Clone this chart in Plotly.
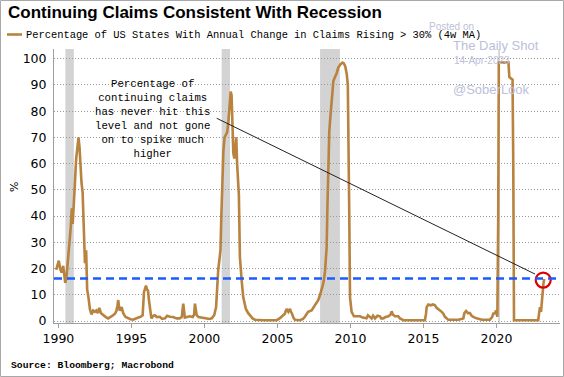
import plotly.graph_objects as go

# ---------------- data ----------------
years = [
    1989.85, 1989.95, 1990.03, 1990.12, 1990.22, 1990.33, 1990.40, 1990.47, 1990.56, 1990.67,
    1990.77, 1990.85, 1990.92, 1990.98, 1991.06, 1991.14, 1991.22, 1991.30, 1991.38, 1991.45,
    1991.52, 1991.58, 1991.66, 1991.74, 1991.82, 1991.90, 1991.97, 1992.06, 1992.16, 1992.27,
    1992.38, 1992.50, 1992.60, 1992.70, 1992.80, 1992.92, 1993.07, 1993.25, 1993.41, 1993.58,
    1993.75, 1993.90, 1993.98, 1994.05, 1994.10, 1994.16, 1994.20, 1994.33, 1994.44, 1994.60,
    1994.78, 1994.95, 1995.12, 1995.30, 1995.47, 1995.60, 1995.77, 1995.86, 1995.93, 1996.00,
    1996.07, 1996.14, 1996.20, 1996.27, 1996.37, 1996.50, 1996.60, 1996.75, 1996.95, 1997.10,
    1997.30, 1997.45, 1997.64, 1997.85, 1998.10, 1998.30, 1998.45, 1998.55, 1998.62, 1998.66,
    1998.80, 1999.00, 1999.20, 1999.30, 1999.35, 1999.42, 1999.47, 1999.60, 1999.80, 2000.00,
    2000.15, 2000.35, 2000.50, 2000.67, 2000.80, 2000.88, 2000.95, 2001.00, 2001.10, 2001.16,
    2001.22, 2001.30, 2001.38, 2001.48, 2001.56, 2001.64, 2001.72, 2001.80, 2001.86, 2001.92,
    2001.98, 2002.05, 2002.12, 2002.18, 2002.24, 2002.30, 2002.36, 2002.43, 2002.50, 2002.55,
    2002.66, 2002.75, 2002.84, 2003.00, 2003.12, 2003.30, 2003.46, 2003.70, 2004.03, 2004.50,
    2004.95, 2005.15, 2005.29, 2005.45, 2005.51, 2005.58, 2005.63, 2005.75, 2005.86, 2005.93,
    2006.00, 2006.10, 2006.20, 2006.54, 2006.75, 2006.88, 2007.00, 2007.10, 2007.34, 2007.45,
    2007.57, 2007.70, 2007.80, 2007.92, 2008.03, 2008.10, 2008.18, 2008.26, 2008.32, 2008.37,
    2008.43, 2008.48, 2008.55, 2008.60, 2008.70, 2008.76, 2008.83, 2008.94, 2009.06, 2009.16,
    2009.30, 2009.45, 2009.55, 2009.65, 2009.75, 2009.82, 2009.87, 2009.92, 2009.97, 2010.08,
    2010.24, 2010.40, 2010.65, 2010.85, 2011.10, 2011.20, 2011.34, 2011.45, 2011.55, 2011.68,
    2011.85, 2012.02, 2012.10, 2012.25, 2012.40, 2012.60, 2012.75, 2012.82, 2012.90, 2013.05,
    2013.27, 2013.39, 2013.63, 2014.00, 2014.50, 2015.10, 2015.18, 2015.22, 2015.33, 2015.50,
    2015.65, 2015.79, 2015.90, 2016.00, 2016.13, 2016.25, 2016.36, 2016.47, 2016.60, 2016.70,
    2017.00, 2017.40, 2017.73, 2017.80, 2017.92, 2018.05, 2018.18, 2018.30, 2018.41, 2018.64,
    2019.00, 2019.55, 2019.70, 2019.78, 2019.90, 2019.97, 2020.06, 2020.12, 2020.16, 2020.50,
    2020.82, 2020.88, 2021.10, 2021.15, 2021.20, 2021.60, 2022.00, 2022.50, 2022.86, 2022.92,
    2022.98, 2023.05, 2023.10, 2023.16, 2023.22, 2023.27,
]
values = [
    19.5, 21.0, 23.0, 20.0, 18.5, 21.0, 17.0, 14.5, 17.0, 24.0,
    30.0, 36.0, 43.0, 37.0, 45.0, 55.0, 62.0, 66.0, 70.0, 66.0,
    56.0, 53.0, 49.0, 38.0, 22.0, 27.0, 12.0, 9.0, 4.5, 2.5,
    4.0, 3.5, 4.0, 3.0, 5.0, 3.0, 2.2, 1.5, 1.0, 1.5,
    2.2, 3.0, 4.0, 6.0, 8.0, 5.0, 4.0, 5.3, 3.0, 1.5,
    1.0, 0.7, 0.5, 1.0, 1.3, 1.5, 2.2, 11.0, 12.5, 13.5,
    12.0, 11.5, 8.0, 5.3, 1.0, 2.0, 2.2, 1.5, 1.6, 0.8,
    1.0, 2.0, 1.6, 1.5, 1.0, 1.0, 1.5, 6.6, 3.0, 1.3,
    1.5, 1.8, 1.5, 2.5, 6.6, 3.0, 2.2, 1.5, 1.3, 1.0,
    1.0, 0.8, 1.0, 2.2, 5.3, 15.5, 20.0, 22.0, 27.0, 40.0,
    55.0, 65.0, 70.0, 71.0, 72.0, 76.0, 84.0, 87.5, 86.0, 76.0,
    64.0, 62.0, 68.0, 70.0, 60.0, 52.0, 48.0, 24.5, 18.0, 15.5,
    9.0, 6.0, 4.6, 3.0, 2.2, 1.0, 0.5, 0.3, 0.3, 0.3,
    0.3, 1.0, 1.6, 2.2, 2.8, 4.0, 4.6, 3.5, 4.6, 3.5,
    2.8, 1.2, 0.5, 0.3, 0.8, 1.6, 2.5, 3.5, 4.0, 5.0,
    6.0, 7.0, 8.0, 10.0, 11.7, 13.5, 15.5, 19.0, 24.0, 28.0,
    45.0, 60.0, 72.0, 76.0, 84.0, 88.0, 91.5, 93.0, 94.5, 96.5,
    97.8, 98.5, 98.2, 97.0, 94.0, 90.0, 70.0, 40.0, 9.0, 3.5,
    1.8, 1.8, 1.8, 1.3, 1.0, 2.2, 1.6, 1.0, 2.0, 1.0,
    2.0, 1.8, 1.0, 1.0, 1.5, 1.8, 2.5, 3.7, 2.5, 1.8,
    1.8, 1.0, 0.3, 0.3, 0.3, 0.3, 3.0, 5.3, 6.3, 6.0,
    6.3, 6.0, 5.0, 4.6, 4.0, 3.5, 2.8, 1.6, 1.0, 0.5,
    0.5, 0.5, 1.0, 3.0, 3.8, 3.0, 3.0, 2.0, 1.6, 1.0,
    0.5, 0.5, 1.5, 2.8, 3.0, 4.0, 1.6, 40.0, 98.5, 98.5,
    98.5, 93.0, 92.0, 60.0, 0.3, 0.3, 0.3, 0.3, 0.3, 3.0,
    5.3, 3.5, 8.0, 11.0, 14.5, 16.0,
]

recession_start = [1990.48, 2001.18, 2007.92, 2020.12]
recession_end = [1991.06, 2001.75, 2009.28, 2020.24]

threshold = 16.2
highlight_x = [2023.2]
highlight_y = [15.6]
arrow_from = (2000.84, 77.3)
arrow_to = (2022.64, 17.9)

x_ticks = [1990, 1995, 2000, 2005, 2010, 2015, 2020]
y_ticks = [0, 10, 20, 30, 40, 50, 60, 70, 80, 90, 100]

title_text = "Continuing Claims Consistent With Recession"
series_name = "Percentage of US States With Annual Change in Claims Rising > 30% (4w MA)"
note_text = ("Percentage of<br>continuing claims<br>has never hit this<br>"
             "level and not gone<br>on to spike much<br>higher")
source_text = "Source: Bloomberg; Macrobond"

# ---------------- layout geometry ----------------
W, H = 564, 377
ML, MR, MT, MB = 54, 4, 49, 54
PW, PH = W - ML - MR, H - MT - MB


def px(xp):
    return (xp - ML) / PW


def py(yp):
    return (H - MB - yp) / PH


LINE_COLOR = "#B8823F"
MONO = "Liberation Mono, DejaVu Sans Mono, monospace"
SANS = "DejaVu Sans, Verdana, sans-serif"
TITLE_FONT = "Liberation Sans, Arial, sans-serif"
WM = "#BCC0DA"

fig = go.Figure()

fig.add_trace(go.Scatter(
    x=years, y=values, mode="lines", name=series_name,
    line=dict(color=LINE_COLOR, width=2.6), showlegend=False, hoverinfo="skip",
))

fig.add_trace(go.Scatter(
    x=highlight_x, y=highlight_y, mode="markers", showlegend=False,
    marker=dict(symbol="circle-open", size=15, color="#E00000",
                line=dict(color="#E00000", width=2.2)),
    hoverinfo="skip", cliponaxis=False,
))

shapes = []
for s, e in zip(recession_start, recession_end):
    shapes.append(dict(type="rect", xref="x", yref="paper", x0=s, x1=e, y0=0, y1=1,
                       fillcolor="#D3D3D3", line=dict(width=0), layer="below"))
shapes.append(dict(type="line", xref="paper", yref="y", x0=0, x1=1,
                   y0=threshold, y1=threshold,
                   line=dict(color="#1A5CFF", width=2.5, dash="8px,5px")))
shapes.append(dict(type="line", xref="x", yref="y",
                   x0=arrow_from[0], y0=arrow_from[1], x1=arrow_to[0], y1=arrow_to[1],
                   line=dict(color="#222222", width=1)))
# legend swatch
shapes.append(dict(type="line", xref="paper", yref="paper",
                   x0=px(7), x1=px(22), y0=py(34.5), y1=py(34.5),
                   line=dict(color=LINE_COLOR, width=2.6)))
# outer frame
shapes.append(dict(type="rect", xref="paper", yref="paper",
                   x0=px(0.5), x1=px(W - 0.5), y0=py(0.5), y1=py(H - 0.5),
                   line=dict(color="#A8A8A8", width=1)))

annotations = [
    dict(text=title_text, x=px(6), y=py(12), xref="paper", yref="paper",
         xanchor="left", yanchor="middle", showarrow=False,
         font=dict(family=TITLE_FONT, size=17, color="#000000", weight="bold")),
    dict(text=series_name, x=px(24), y=py(34.5), xref="paper", yref="paper",
         xanchor="left", yanchor="middle", showarrow=False,
         font=dict(family=MONO, size=10.4, color="#000000")),
    dict(text="Posted on", x=px(427), y=py(27), xref="paper", yref="paper",
         xanchor="left", yanchor="middle", showarrow=False,
         font=dict(family="Liberation Sans, Arial", size=10, color=WM)),
    dict(text="The Daily Shot", x=px(451), y=py(45), xref="paper", yref="paper",
         xanchor="left", yanchor="middle", showarrow=False,
         font=dict(family="Liberation Sans, Arial", size=13, color=WM)),
    dict(text="14-Apr-2023", x=px(452), y=py(60), xref="paper", yref="paper",
         xanchor="left", yanchor="middle", showarrow=False,
         font=dict(family="Liberation Sans, Arial", size=10, color=WM)),
    dict(text="@SoberLook", x=px(451), y=py(89), xref="paper", yref="paper",
         xanchor="left", yanchor="middle", showarrow=False,
         font=dict(family="Liberation Sans, Arial", size=13, color=WM)),
    dict(text=note_text, x=px(152), y=py(119), xref="paper", yref="paper",
         xanchor="center", yanchor="middle", align="center", showarrow=False,
         font=dict(family=MONO, size=10.7, color="#000000")),
    dict(text="%", x=px(15), y=py(187), xref="paper", yref="paper",
         xanchor="center", yanchor="middle", textangle=-90, showarrow=False,
         font=dict(family=SANS, size=11, color="#000000")),
    dict(text=source_text, x=px(9), y=py(365), xref="paper", yref="paper",
         xanchor="left", yanchor="middle", showarrow=False,
         font=dict(family=MONO, size=9.7, color="#000000", weight="bold")),
]

fig.update_layout(
    width=W, height=H,
    margin=dict(l=ML, r=MR, t=MT, b=MB, pad=0),
    paper_bgcolor="white", plot_bgcolor="white",
    shapes=shapes, annotations=annotations,
    xaxis=dict(range=[1989.7, 2024.35], tickvals=x_ticks,
               ticktext=[str(t) for t in x_ticks],
               showgrid=False, zeroline=False,
               showline=True, linecolor="#A0A0A0", linewidth=1,
               ticks="outside", ticklen=4, tickcolor="#A0A0A0",
               tickfont=dict(family=SANS, size=12.5, color="#000000")),
    yaxis=dict(range=[-0.76, 103.7], tickvals=y_ticks,
               showgrid=True, gridcolor="#9A9A9A", griddash="1px,2px", gridwidth=1,
               zeroline=False, showline=True, linecolor="#A0A0A0", linewidth=1,
               ticks="outside", ticklen=4, tickcolor="rgba(0,0,0,0)",
               tickfont=dict(family=SANS, size=12.5, color="#000000")),
)

fig.write_html("out.html",
               config={"displayModeBar": False, "staticPlot": True},
               post_script="document.body.style.margin='0px';document.body.style.padding='0px';")
